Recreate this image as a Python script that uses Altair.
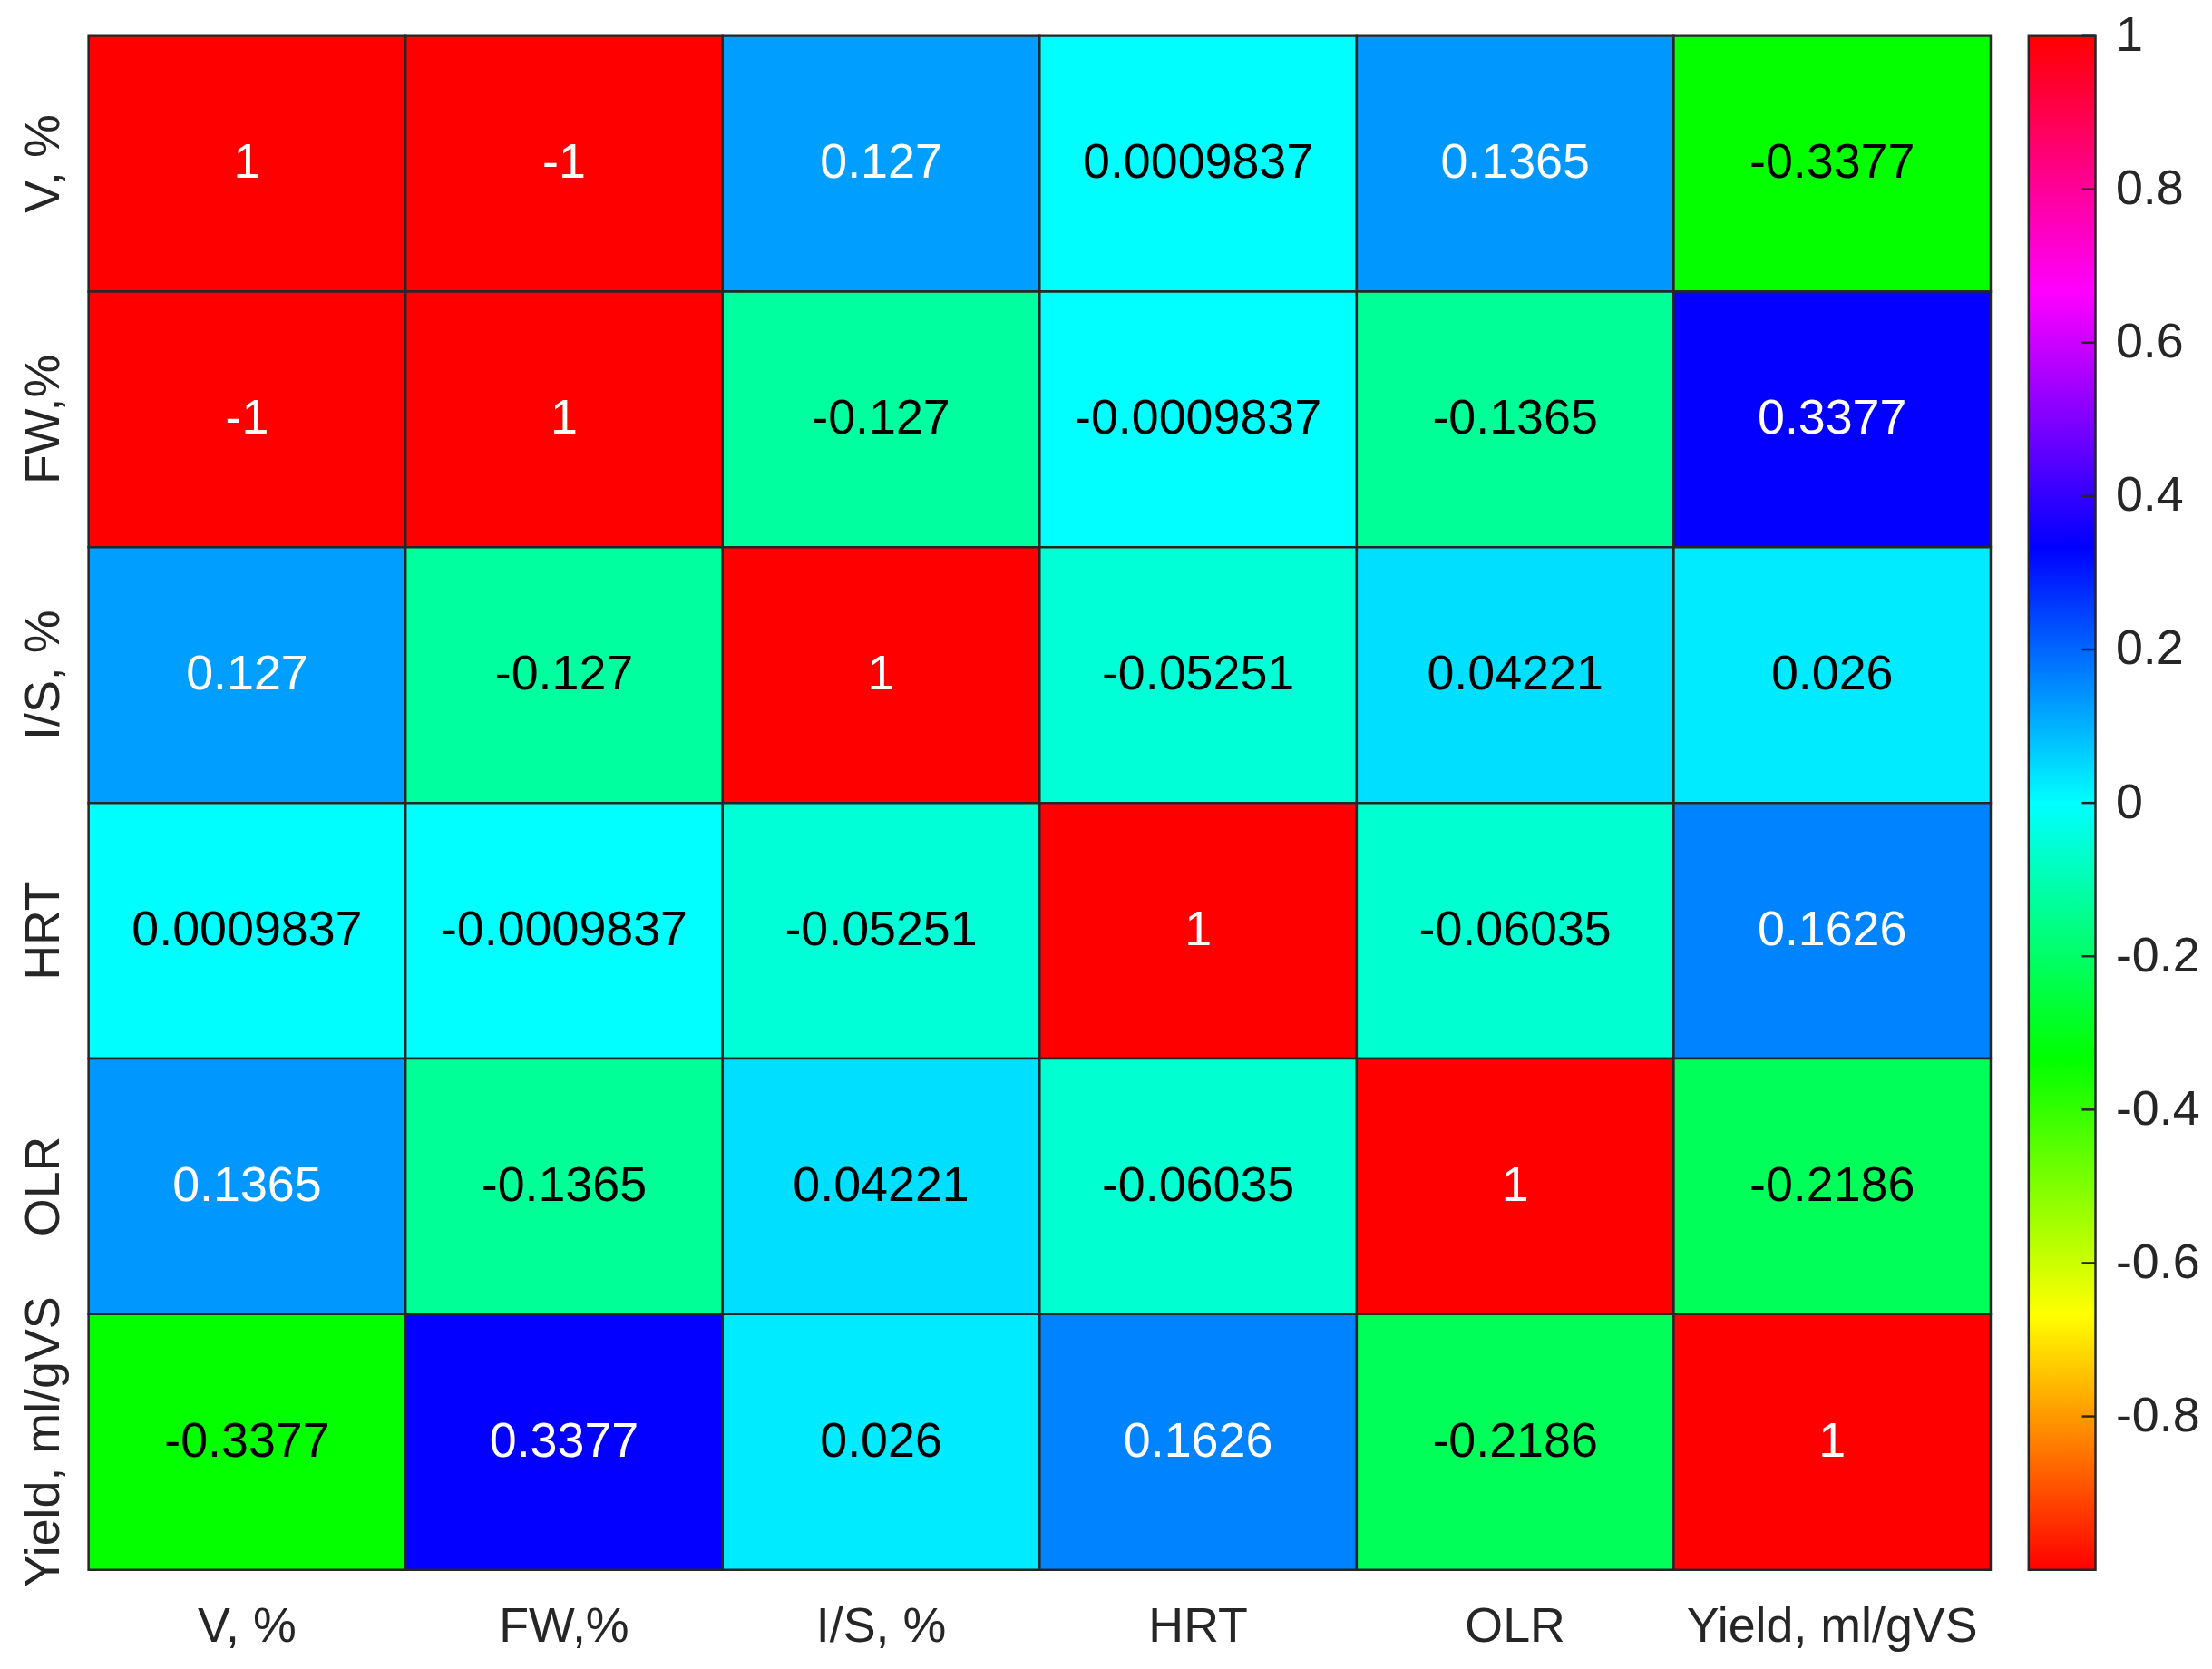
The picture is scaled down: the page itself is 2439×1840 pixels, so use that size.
import altair as alt
import pandas as pd

# ---- data ----
variables = ["V, %", "FW,%", "I/S, %", "HRT", "OLR", "Yield, ml/gVS"]
row_V = [1, -1, 0.127, 0.0009837, 0.1365, -0.3377]
row_FW = [-1, 1, -0.127, -0.0009837, -0.1365, 0.3377]
row_IS = [0.127, -0.127, 1, -0.05251, 0.04221, 0.026]
row_HRT = [0.0009837, -0.0009837, -0.05251, 1, -0.06035, 0.1626]
row_OLR = [0.1365, -0.1365, 0.04221, -0.06035, 1, -0.2186]
row_Yield = [-0.3377, 0.3377, 0.026, 0.1626, -0.2186, 1]
matrix = [row_V, row_FW, row_IS, row_HRT, row_OLR, row_Yield]
colorbar_ticks = [-0.8, -0.6, -0.4, -0.2, 0, 0.2, 0.4, 0.6, 0.8, 1]
colorbar_range = [-1, 1]

records = []
for i, rname in enumerate(variables):
    for j, cname in enumerate(variables):
        records.append({"row": rname, "col": cname, "value": matrix[i][j]})
df = pd.DataFrame(records)

FONT = "Liberation Sans"
TXT = "#262626"
W, H = 2106, 1698
CBW = 74

hsv_domain = [-1, -2 / 3, -1 / 3, 0, 1 / 3, 2 / 3, 1]
hsv_colors = ["#ff0000", "#ffff00", "#00ff00", "#00ffff", "#0000ff", "#ff00ff", "#ff0000"]

base = alt.Chart(df).encode(
    x=alt.X("col:N", sort=variables, title=None,
            axis=alt.Axis(labelAngle=0, ticks=False, domain=False, labelPadding=36,
                          labelFontSize=54, labelColor=TXT, labelFont=FONT, labelLimit=0,
                          labelFontWeight="normal")),
    y=alt.Y("row:N", sort=variables, title=None,
            axis=alt.Axis(labelAngle=-90, labelAlign="center", labelBaseline="bottom",
                          ticks=False, domain=False, labelPadding=22, labelLimit=0,
                          labelFontSize=54, labelColor=TXT, labelFont=FONT,
                          labelFontWeight="normal")),
)

rects = base.mark_rect(stroke="#262626", strokeWidth=2.5).encode(
    color=alt.Color("value:Q", legend=None,
                    scale=alt.Scale(domain=hsv_domain, range=hsv_colors, interpolate="rgb"))
)

texts = base.mark_text(fontSize=54, font=FONT).transform_calculate(
    label="toString(datum.value)"
).encode(
    text="label:N",
    color=alt.condition("datum.value > 0.1 || datum.value < -0.9",
                        alt.value("white"), alt.value("black")),
)

heat = alt.layer(rects, texts).properties(width=W, height=H)

# ---- colorbar ----
cb_df = pd.DataFrame({"lo": [colorbar_range[0]], "hi": [colorbar_range[1]]})
tick_df = pd.DataFrame({"t": colorbar_ticks})

grad = alt.Gradient(
    gradient="linear",
    stops=[alt.GradientStop(offset=k / 6, color=c) for k, c in enumerate(hsv_colors)],
    x1=0, x2=0, y1=1, y2=0,
)

cb_scale = alt.Scale(domain=colorbar_range, nice=False, zero=False)
cb_axis = alt.Axis(orient="right", values=colorbar_ticks, ticks=False, domain=False,
                   grid=False, labelPadding=22, labelFontSize=54, labelColor=TXT,
                   labelFont=FONT, labelFlush=False, labelOverlap=False, labelLimit=0,
                   labelExpr="toString(datum.value)", labelAlign="left",
                   labelBaseline="middle", title=None)

cb_rect = alt.Chart(cb_df).mark_rect(fill=grad, stroke="#262626", strokeWidth=2.5).encode(
    y=alt.Y("lo:Q", scale=cb_scale, title=None, axis=cb_axis),
    y2="hi:Q",
    x=alt.value(0),
    x2=alt.value(CBW),
)

cb_ticks = alt.Chart(tick_df).mark_rule(color="#262626", strokeWidth=2.5).encode(
    y=alt.Y("t:Q", scale=cb_scale, title=None, axis=cb_axis),
    x=alt.value(CBW - 15),
    x2=alt.value(CBW),
)

colorbar = alt.layer(cb_rect, cb_ticks).properties(width=CBW, height=H)

chart = alt.hconcat(heat, colorbar, spacing=38).configure_view(stroke=None).configure(
    font=FONT
).properties(padding={"top": 0, "left": 13, "right": 5, "bottom": 5})

chart.save("out.html", embed_options={"renderer": "svg", "actions": False})
